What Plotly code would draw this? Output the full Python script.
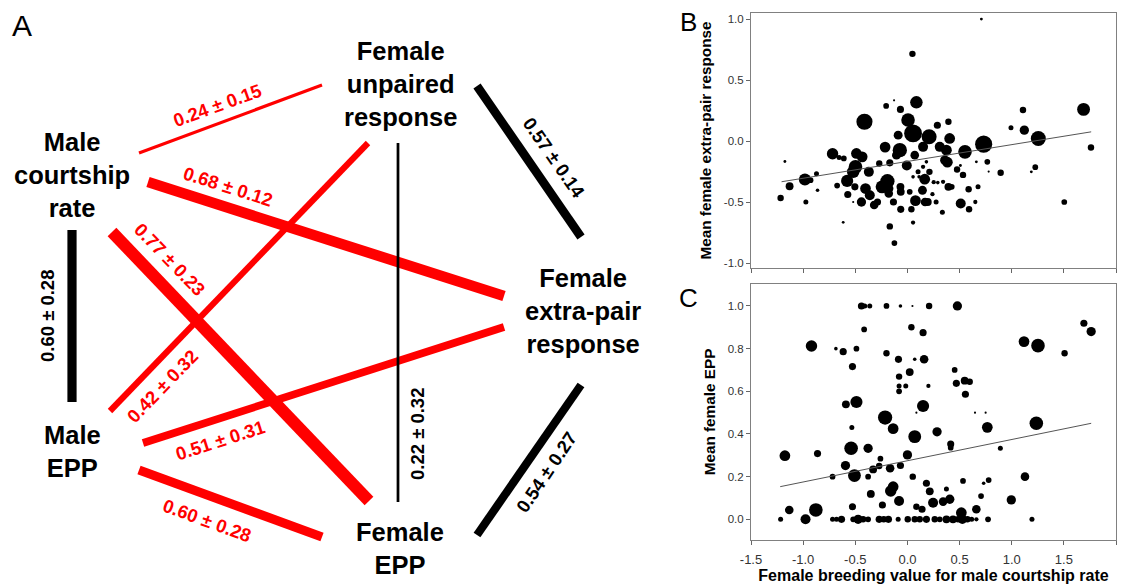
import plotly.graph_objects as go

# ---------------- DATA ----------------
# Panel A: genetic correlations between traits (estimate ± SE)
node_names = ["Male<br>courtship<br>rate", "Female<br>unpaired<br>response",
              "Female<br>extra-pair<br>response", "Male<br>EPP", "Female<br>EPP"]
edge_from = [0, 0, 0, 1, 2, 3, 0, 1, 1, 2]
edge_to   = [1, 2, 4, 3, 3, 4, 3, 4, 2, 4]
edge_est  = [0.24, 0.68, 0.77, 0.42, 0.51, 0.60, 0.60, 0.22, 0.57, 0.54]
edge_se   = [0.15, 0.12, 0.23, 0.32, 0.31, 0.28, 0.28, 0.32, 0.14, 0.27]
edge_cross_sex = [True, True, True, True, True, True, False, False, False, False]

# Panel B: female breeding value vs mean extra-pair response (marker weight)
b_x = [0.709, 0.048, 0.086, -0.128, -0.204, -0.067, -0.412, 1.108, 1.689, 0.287,
       0.393, 0.006, 0.054, 0.208, -0.089, 0.993, 1.121, 1.255, 1.76, 0.731,
       0.405, 0.15, -0.214, -0.073, -0.718, -0.489, -0.434, 0.31, 0.374, 0.552,
       0.07, 0.358, 0.383, -0.655, -0.61, -1.175, 0.766, 0.661, 0.182, -0.006,
       -0.169, -0.27, -0.105, -0.498, -0.52, -0.37, -0.872, -0.983, -0.929, 0.894,
       1.226, 1.188, 0.779, 0.476, 0.508, 0.533, 0.102, 0.15, 0.211, 0.166,
       0.054, 0.112, 0.252, -0.578, -0.674, -1.13, -0.862, -0.192, -0.243, -0.067,
       0.144, -0.402, -0.361, -0.504, -0.572, -0.179, -0.064, 0.022, -0.169, 0.393,
       0.425, 0.587, 0.677, 0.24, -0.52, -0.441, -0.319, -0.287, -0.134, 0.077,
       0.169, 0.195, 0.275, 0.511, 0.651, -0.974, -1.216, 1.504, -0.064, 0.038,
       0.335, 0.591, -0.616, -0.169, 0.054, -0.125, 0.291, 0.342]
b_y = [1.0, 0.715, 0.318, 0.334, 0.288, 0.26, 0.159, 0.255, 0.26, 0.13,
       0.159, 0.173, 0.063, 0.036, 0.049, 0.11, 0.09, 0.022, -0.052, -0.025,
       0.022, -0.047, -0.049, -0.074, -0.104, -0.101, -0.129, -0.047, -0.074, -0.088,
       -0.115, -0.156, -0.173, -0.134, -0.142, -0.167, -0.17, -0.17, -0.17, -0.2,
       -0.178, -0.184, -0.115, -0.211, -0.252, -0.252, -0.268, -0.315, -0.32, -0.26,
       -0.214, -0.252, -0.25, -0.233, -0.2, -0.277, -0.252, -0.211, -0.252, -0.312,
       -0.293, -0.293, -0.337, -0.326, -0.364, -0.37, -0.403, -0.329, -0.375, -0.375,
       -0.403, -0.389, -0.444, -0.375, -0.438, -0.43, -0.416, -0.416, -0.389, -0.375,
       -0.375, -0.395, -0.375, -0.435, -0.499, -0.499, -0.523, -0.499, -0.499, -0.488,
       -0.499, -0.499, -0.499, -0.512, -0.499, -0.499, -0.466, -0.499, -0.559, -0.559,
       -0.584, -0.559, -0.666, -0.699, -0.668, -0.836, -0.34, -0.334]
b_n = [8, 18, 35, 6, 16, 20, 45, 18, 36, 20,
       18, 38, 50, 42, 25, 14, 26, 42, 18, 48,
       30, 28, 30, 40, 32, 30, 30, 28, 30, 38,
       24, 26, 30, 14, 16, 8, 16, 8, 10, 28,
       20, 18, 25, 38, 35, 28, 14, 34, 16, 18,
       16, 8, 6, 18, 8, 18, 14, 12, 18, 30,
       10, 10, 12, 34, 16, 22, 10, 40, 36, 22,
       25, 30, 28, 20, 20, 24, 22, 16, 20, 22,
       16, 18, 14, 12, 6, 26, 24, 20, 20, 30,
       24, 22, 14, 28, 12, 14, 18, 16, 20, 18,
       14, 18, 8, 18, 12, 16, 10, 12]
b_fit_x = [-1.207, 1.762]
b_fit_y = [-0.333, 0.076]

# Panel C: female breeding value vs mean EPP
c_x = [-0.441, -0.409, -0.361, -0.201, -0.067, 0.048, 0.208, 0.479,
       1.692, 1.762, -0.415, 0.038, 0.15, -0.92, 1.118, 1.252, 1.507,
       -0.686, -0.616, -0.489, -0.201, -0.086, 0.07, 0.16, 0.453, -0.527,
       0.022, -0.08, -0.08, -0.016, -0.08, 0.201, 0.469, 0.549, 0.597, 0.556,
       -0.59, -0.489, 0.15, 0.086, 0.648, 0.75, -0.214, -0.137, -0.533,
       0.07, 0.284, 0.766, 1.236, 0.415, 0.415, 0.891, -1.175, -0.862,
       -0.54, -0.377, 0.0, -0.259, -0.594, -0.329, -0.271, -0.166, -0.067,
       -0.718, -0.508, -0.377, 0.051, 0.182, 0.533, 0.779, 0.731, 1.127,
       -0.137, -0.16, 0.214, 0.374, -0.351, 0.406, 0.342, 0.246, -0.08,
       0.706, 0.996, -1.133, -0.878, -0.527, -0.24, 0.086, 0.14, 0.661, 0.517,
       -1.216, -0.977, -0.718, -0.68, -0.632, -0.52, -0.473, -0.425, -0.377,
       -0.271, -0.227, -0.182, -0.089, 0.003, 0.07, 0.118, 0.182, 0.262,
       0.31, 0.374, 0.437, 0.485, 0.527, 0.575, 0.616, 0.661, 0.773, 1.194]
c_y = [1.0, 1.0, 1.0, 1.0, 1.0, 1.0, 1.0, 1.0,
       0.919, 0.88, 0.89, 0.9, 0.875, 0.8125, 0.833, 0.814, 0.778,
       0.8, 0.786, 0.8, 0.778, 0.75, 0.75, 0.75, 0.7, 0.716,
       0.69, 0.669, 0.625, 0.625, 0.6, 0.625, 0.6375, 0.65, 0.645, 0.586,
       0.539, 0.55, 0.531, 0.5, 0.5, 0.5, 0.477, 0.425, 0.43,
       0.3875, 0.41, 0.431, 0.45, 0.353, 0.336, 0.333, 0.298, 0.308,
       0.333, 0.333, 0.302, 0.284, 0.252, 0.234, 0.25, 0.239, 0.252,
       0.2, 0.205, 0.2, 0.2, 0.169, 0.18, 0.184, 0.169, 0.2,
       0.153, 0.133, 0.131, 0.142, 0.119, 0.094, 0.083, 0.078, 0.086,
       0.109, 0.091, 0.044, 0.044, 0.059, 0.067, 0.059, 0.047, 0.047, 0.031,
       0.0, 0.0, 0.0, 0.0, 0.0, 0.0, 0.0, 0.0, 0.0,
       0.0, 0.0, 0.0, 0.0, 0.0, 0.0, 0.0, 0.0, 0.0,
       0.0, 0.0, 0.0, 0.0, 0.0, 0.0, 0.0, 0.0, 0.0, 0.0]
c_n = [20, 14, 14, 16, 10, 6, 18, 26,
       20, 26, 16, 18, 20, 32, 30, 38, 18,
       10, 20, 16, 18, 20, 10, 24, 16, 20,
       22, 18, 14, 14, 16, 12, 20, 22, 18, 20,
       22, 34, 34, 6, 6, 6, 40, 30, 14,
       36, 26, 30, 38, 20, 16, 14, 30, 20,
       38, 26, 26, 16, 26, 22, 18, 24, 20,
       16, 36, 16, 18, 20, 16, 16, 10, 24,
       30, 32, 22, 14, 22, 26, 24, 28, 28,
       16, 26, 24, 38, 20, 20, 18, 20, 24, 30,
       14, 28, 14, 14, 20, 16, 26, 18, 16,
       20, 18, 20, 14, 18, 18, 18, 20, 18,
       16, 22, 22, 18, 26, 18, 14, 12, 16, 14]
c_fit_x = [-1.22, 1.762]
c_fit_y = [0.153, 0.45]

x_ticks = [-1.5, -1.0, -0.5, 0.0, 0.5, 1.0, 1.5, 2.0]
x_ticklabels = ["-1.5", "-1.0", "-0.5", "0.0", "0.5", "1.0", "1.5", "2.0"]
b_yticks = [-1.0, -0.5, 0.0, 0.5, 1.0]
b_yticklabels = ["-1.0", "-0.5", "0.0", "0.5", "1.0"]
c_yticks = [0.0, 0.2, 0.4, 0.6, 0.8, 1.0]
c_yticklabels = ["0.0", "0.2", "0.4", "0.6", "0.8", "1.0"]

# ---------------- LAYOUT GEOMETRY (panel A drawn in a pixel-like frame) ----------------
W, H = 1125, 584
A_W = 690
node_pos = [(72, 175), (400, 84), (583, 311), (72, 451), (400, 548)]
edge_geom = [  # segment ends, label centre, label angle
    ((139, 153), (322, 85), (217, 105), -20),
    ((148, 182), (504, 296), (228, 186), 17.7),
    ((112, 232), (369, 501), (170, 259), 46),
    ((368, 143), (110, 411), (162, 386), -46),
    ((143, 443), (504, 327), (220, 440), -17.8),
    ((139, 470), (322, 537), (207, 520), 20),
    ((72, 230), (72, 402), (47, 316), -90),
    ((398, 143), (398, 502), (417, 434), -90),
    ((477, 86), (581, 237), (554, 157), 55),
    ((581, 385), (477, 535), (546, 472), -56),
]

FONT = "Liberation Sans, Arial, Helvetica, sans-serif"
RED = "#ff0000"

fig = go.Figure()
annotations = []

for i in range(len(edge_est)):
    (x0, y0), (x1, y1), (lx, ly), ang = edge_geom[i]
    col = RED if edge_cross_sex[i] else "#000000"
    fig.add_trace(go.Scatter(x=[x0, x1], y=[y0, y1], mode="lines",
                             line=dict(color=col, width=17 * edge_est[i] - 1),
                             xaxis="x3", yaxis="y3", hoverinfo="skip", showlegend=False))
    annotations.append(dict(x=lx, y=ly, xref="x3", yref="y3",
                            text=f"<b>{edge_est[i]:.2f} ± {edge_se[i]:.2f}</b>",
                            textangle=ang, showarrow=False, xanchor="center", yanchor="middle",
                            font=dict(family=FONT, size=18.5, color=col)))

for name, (nx, ny) in zip(node_names, node_pos):
    annotations.append(dict(x=nx, y=ny, xref="x3", yref="y3", text=f"<b>{name}</b>",
                            showarrow=False, xanchor="center", yanchor="middle",
                            font=dict(family=FONT, size=25.5, color="#000")))

# Panel letters
for letter, px, py, sz in [("A", 22, 26, 30), ("B", 688, 22, 26), ("C", 688, 298, 26)]:
    annotations.append(dict(x=px / W, y=1 - py / H, xref="paper", yref="paper", text=letter,
                            showarrow=False, xanchor="center", yanchor="middle",
                            font=dict(family=FONT, size=sz, color="#000")))

marker_style = dict(color="#000", opacity=1, sizemode="diameter", sizeref=2.8, line=dict(width=0))

# Panel B
fig.add_trace(go.Scatter(x=b_x, y=b_y, mode="markers", xaxis="x", yaxis="y",
                         marker=dict(size=b_n, **marker_style), showlegend=False))
fig.add_trace(go.Scatter(x=b_fit_x, y=b_fit_y, mode="lines", xaxis="x", yaxis="y",
                         line=dict(color="#555", width=1), showlegend=False))
# Panel C
fig.add_trace(go.Scatter(x=c_x, y=c_y, mode="markers", xaxis="x2", yaxis="y2",
                         marker=dict(size=c_n, **marker_style), showlegend=False))
fig.add_trace(go.Scatter(x=c_fit_x, y=c_fit_y, mode="lines", xaxis="x2", yaxis="y2",
                         line=dict(color="#555", width=1), showlegend=False))

xdom = [751 / W, 1116 / W]
common_axis = dict(showline=True, linecolor="#808080", linewidth=1, mirror=True, automargin=False,
                   ticks="outside", ticklen=4, tickcolor="#666", showgrid=False, zeroline=False)
yfont = dict(family=FONT, size=11.5, color="#333")
xfont = dict(family=FONT, size=13, color="#333")

fig.update_layout(
    width=W, height=H, autosize=False,
    margin=dict(l=0, r=0, t=0, b=0, pad=0, autoexpand=False),
    paper_bgcolor="white", plot_bgcolor="white",
    annotations=annotations,
    xaxis=dict(domain=xdom, anchor="y", range=[-1.5, 2.0], tickvals=x_ticks,
               showticklabels=False, **common_axis),
    yaxis=dict(domain=[(H - 268) / H, (H - 13) / H], anchor="x", range=[-1.04, 1.05],
               tickvals=b_yticks, ticktext=b_yticklabels, tickfont=yfont,
               title=dict(text="<b>Mean female extra-pair response</b>", standoff=8,
                          font=dict(family=FONT, size=15.3, color="#000")),
               **common_axis),
    xaxis2=dict(domain=xdom, anchor="y2", range=[-1.5, 2.0], tickvals=x_ticks,
                ticktext=x_ticklabels, tickfont=xfont, ticklabelstandoff=3,
                title=dict(text="<b>Female breeding value for male courtship rate</b>", standoff=4,
                           font=dict(family=FONT, size=16, color="#000")),
                **common_axis),
    yaxis2=dict(domain=[(H - 540) / H, (H - 284) / H], anchor="x2", range=[-0.097, 1.103],
                tickvals=c_yticks, ticktext=c_yticklabels, tickfont=yfont,
                title=dict(text="<b>Mean female EPP</b>", standoff=8,
                           font=dict(family=FONT, size=15.3, color="#000")),
                **common_axis),
    xaxis3=dict(domain=[0, A_W / W], anchor="y3", range=[0, A_W], visible=False, fixedrange=True),
    yaxis3=dict(domain=[0, 1], anchor="x3", range=[H, 0], visible=False, fixedrange=True),
)

fig.write_html("out.html", config={"displayModeBar": False, "responsive": False},
               post_script="document.body.style.margin='0px';")
